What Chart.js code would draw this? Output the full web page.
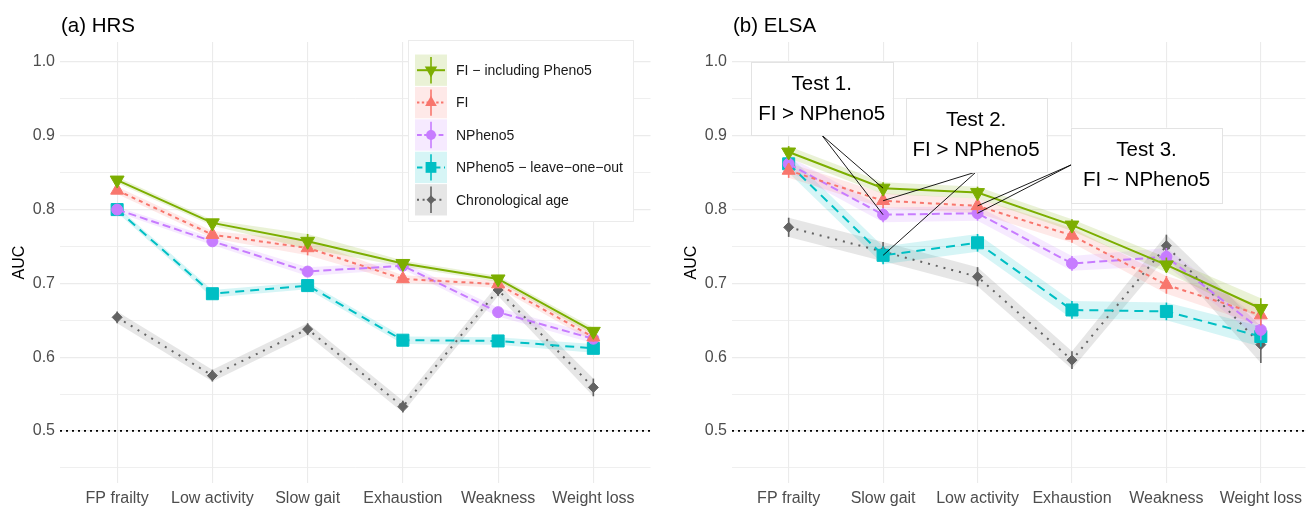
<!DOCTYPE html>
<html>
<head>
<meta charset="utf-8">
<script src="https://cdn.jsdelivr.net/npm/chart.js@4.4.1/dist/chart.umd.min.js"></script>
<style>
  html, body { margin: 0; padding: 0; background: #fff; overflow: hidden; }
  #wrap { position: relative; width: 1315px; height: 506px; }
  canvas { position: absolute; top: 0; }
  #hrs { left: 0; }
  #elsa { left: 660px; }
</style>
</head>
<body>
<div id="wrap">
  <canvas id="hrs" width="660" height="506"></canvas>
  <canvas id="elsa" width="655" height="506"></canvas>
</div>
<script>
const FONT = '"Liberation Sans", Arial, Helvetica, sans-serif';

const hrsCategories = ['FP frailty', 'Low activity', 'Slow gait', 'Exhaustion', 'Weakness', 'Weight loss'];
const elsaCategories = ['FP frailty', 'Slow gait', 'Low activity', 'Exhaustion', 'Weakness', 'Weight loss'];
const seriesNames = ['FI \u2212 including Pheno5', 'FI', 'NPheno5', 'NPheno5 \u2212 leave\u2212one\u2212out', 'Chronological age'];

// (a) HRS - AUC
const hrsFiPheno = [0.840, 0.782, 0.757, 0.727, 0.706, 0.635];
const hrsFi      = [0.826, 0.766, 0.748, 0.706, 0.699, 0.627];
const hrsNPheno  = [0.800, 0.757, 0.716, 0.724, 0.661, 0.625];
const hrsLoo     = [0.800, 0.686, 0.697, 0.623, 0.622, 0.612];
const hrsAge     = [0.654, 0.575, 0.638, 0.533, 0.691, 0.559];
// (a) HRS - half width of CI
const hrsFiPhenoCi = [0.004, 0.004, 0.010, 0.004, 0.004, 0.005];
const hrsFiCi      = [0.005, 0.005, 0.010, 0.005, 0.005, 0.006];
const hrsNPhenoCi  = [0.004, 0.005, 0.006, 0.005, 0.006, 0.006];
const hrsLooCi     = [0.004, 0.005, 0.005, 0.005, 0.005, 0.006];
const hrsAgeCi     = [0.008, 0.008, 0.008, 0.008, 0.008, 0.012];

// (b) ELSA - AUC
const elsaFiPheno = [0.878, 0.829, 0.823, 0.779, 0.725, 0.666];
const elsaFi      = [0.853, 0.812, 0.805, 0.765, 0.698, 0.657];
const elsaNPheno  = [0.862, 0.793, 0.795, 0.727, 0.736, 0.637];
const elsaLoo     = [0.862, 0.738, 0.755, 0.664, 0.662, 0.628];
const elsaAge     = [0.776, 0.743, 0.709, 0.596, 0.751, 0.617];
// (b) ELSA - half width of CI
const elsaFiPhenoCi = [0.008, 0.008, 0.008, 0.008, 0.010, 0.014];
const elsaFiCi      = [0.010, 0.010, 0.010, 0.010, 0.012, 0.014];
const elsaNPhenoCi  = [0.010, 0.010, 0.010, 0.010, 0.012, 0.014];
const elsaLooCi     = [0.012, 0.012, 0.012, 0.012, 0.012, 0.014];
const elsaAgeCi     = [0.013, 0.013, 0.013, 0.012, 0.015, 0.025];

const yTicks = [0.45, 0.5, 0.55, 0.6, 0.65, 0.7, 0.75, 0.8, 0.85, 0.9, 0.95, 1.0];
const refLine = 0.5;

const testLabels = [['Test 1.', 'FI > NPheno5'], ['Test 2.', 'FI > NPheno5'], ['Test 3.', 'FI ~ NPheno5']];

// label boxes in data units, links = [series, category]
const testBoxes = [
  { x0: -0.40, x1: 1.10, y0: 1.000, y1: 0.901, anchor: 'bottom', links: [[0, 1], [2, 1]] },
  { x0: 1.24, x1: 2.73, y0: 0.951, y1: 0.851, anchor: 'bottom', links: [[1, 1], [3, 1]] },
  { x0: 2.99, x1: 4.59, y0: 0.911, y1: 0.810, anchor: 'left', links: [[1, 2], [2, 2]] }
];

const seriesStyle = [
  { color: '#7CAE00', rgb: '124,174,0', dash: [], point: 'triangle', rot: 180, r: 8 },
  { color: '#F8766D', rgb: '248,118,109', dash: [4, 4], point: 'triangle', rot: 0, r: 7.5 },
  { color: '#C77CFF', rgb: '199,124,255', dash: [8, 4], point: 'circle', rot: 0, r: 5.5 },
  { color: '#00BFC4', rgb: '0,191,196', dash: [9, 6], point: 'rect', rot: 0, r: 8.5 },
  { color: '#636363', rgb: '100,100,100', dash: [2, 6], point: 'rectRot', rot: 0, r: 5 }
];
const RIBBON_ALPHA = 0.16;

function drawMarker(ctx, st, x, y, r) {
  ctx.save();
  ctx.fillStyle = st.color;
  ctx.beginPath();
  if (st.point === 'circle') {
    ctx.arc(x, y, r, 0, Math.PI * 2);
  } else if (st.point === 'rect') {
    const h = r * Math.SQRT1_2;
    ctx.rect(x - h, y - h, 2 * h, 2 * h);
  } else if (st.point === 'rectRot') {
    ctx.moveTo(x, y - r); ctx.lineTo(x + r, y); ctx.lineTo(x, y + r); ctx.lineTo(x - r, y);
    ctx.closePath();
  } else {
    for (let k = 0; k < 3; k++) {
      const a = st.rot * Math.PI / 180 + k * 2 * Math.PI / 3;
      const px = x + Math.sin(a) * r, py = y - Math.cos(a) * r;
      if (k === 0) ctx.moveTo(px, py); else ctx.lineTo(px, py);
    }
    ctx.closePath();
  }
  ctx.fill();
  ctx.restore();
}

function buildDatasets(values, cis) {
  const ds = [];
  values.forEach((vals, s) => {
    const st = seriesStyle[s];
    ds.push({
      data: vals.map((v, i) => ({ x: i, y: v })),
      ci: cis[s],
      series: s,
      borderColor: st.color,
      borderWidth: 2,
      borderDash: st.dash,
      pointStyle: st.point,
      rotation: st.rot,
      pointRadius: st.r,
      pointBackgroundColor: st.color,
      pointBorderColor: st.color,
      pointBorderWidth: 1,
      fill: false,
      tension: 0,
      order: 0
    });
  });
  values.forEach((vals, s) => {
    const st = seriesStyle[s];
    ds.push({
      data: vals.map((v, i) => ({ x: i, y: v - cis[s][i] })),
      borderWidth: 0, pointRadius: 0, fill: false, order: 10
    });
    ds.push({
      data: vals.map((v, i) => ({ x: i, y: v + cis[s][i] })),
      borderWidth: 0, pointRadius: 0, order: 10,
      fill: '-1',
      backgroundColor: 'rgba(' + st.rgb + ',' + RIBBON_ALPHA + ')'
    });
  });
  return ds;
}

function panelPlugin(cfg) {
  return {
    id: 'panel_' + cfg.id,
    beforeDatasetsDraw(chart) {
      const { ctx, chartArea: a, scales } = chart;
      const y = scales.y.getPixelForValue(refLine);
      ctx.save();
      ctx.strokeStyle = '#000';
      ctx.lineWidth = 1.8;
      ctx.setLineDash([2, 4]);
      ctx.beginPath();
      ctx.moveTo(a.left, y);
      ctx.lineTo(a.right, y);
      ctx.stroke();
      ctx.restore();
    },
    beforeDatasetDraw(chart, args) {
      const d = chart.data.datasets[args.index];
      if (d.series === undefined) return;
      const { ctx, scales } = chart;
      const st = seriesStyle[d.series];
      ctx.save();
      ctx.strokeStyle = st.color;
      ctx.lineWidth = 1.6;
      d.data.forEach((p, i) => {
        const x = scales.x.getPixelForValue(p.x);
        ctx.beginPath();
        ctx.moveTo(x, scales.y.getPixelForValue(p.y - d.ci[i]));
        ctx.lineTo(x, scales.y.getPixelForValue(p.y + d.ci[i]));
        ctx.stroke();
      });
      ctx.restore();
    },
    afterDraw(chart) {
      const { ctx, chartArea: a } = chart;
      ctx.save();
      ctx.fillStyle = '#000';
      ctx.font = '20.5px ' + FONT;
      ctx.textBaseline = 'alphabetic';
      ctx.textAlign = 'left';
      ctx.fillText(cfg.title, a.left + 1, 32);
      ctx.restore();
      if (cfg.legend) drawLegend(ctx);
      if (cfg.tests) drawTests(chart);
    }
  };
}

function drawLegend(ctx) {
  const bx = 408, by = 40, bw = 225, bh = 181;
  ctx.save();
  ctx.fillStyle = '#fff';
  ctx.fillRect(bx, by, bw, bh);
  ctx.strokeStyle = '#ebebeb';
  ctx.lineWidth = 1;
  ctx.strokeRect(bx + 0.5, by + 0.5, bw, bh);
  const kx = 415, kw = 32, top = 54, rh = 32.4;
  seriesNames.forEach((name, s) => {
    const st = seriesStyle[s];
    const ry = top + s * rh;
    const cx = kx + kw / 2, cy = ry + rh / 2;
    ctx.fillStyle = 'rgba(' + st.rgb + ',' + RIBBON_ALPHA + ')';
    ctx.fillRect(kx, ry + 0.5, kw, rh - 1);
    ctx.strokeStyle = st.color;
    ctx.lineWidth = 2;
    ctx.setLineDash(st.dash.length ? st.dash.map(v => Math.max(2, v * 0.6)) : []);
    ctx.beginPath();
    ctx.moveTo(kx + 2, cy); ctx.lineTo(kx + kw - 2, cy);
    ctx.stroke();
    ctx.setLineDash([]);
    ctx.lineWidth = 1.6;
    ctx.beginPath();
    ctx.moveTo(cx, ry + 3); ctx.lineTo(cx, ry + rh - 3);
    ctx.stroke();
    drawMarker(ctx, st, cx, cy, st.r * 0.9);
    ctx.fillStyle = '#1a1a1a';
    ctx.font = '14px ' + FONT;
    ctx.textBaseline = 'middle';
    ctx.textAlign = 'left';
    ctx.fillText(name, 456, cy + 1);
  });
  ctx.restore();
}

function drawTests(chart) {
  const { ctx, scales } = chart;
  const values = [elsaFiPheno, elsaFi, elsaNPheno, elsaLoo, elsaAge];
  ctx.save();
  testBoxes.forEach((b, k) => {
    const l = scales.x.getPixelForValue(b.x0), r = scales.x.getPixelForValue(b.x1);
    const t = scales.y.getPixelForValue(b.y0), btm = scales.y.getPixelForValue(b.y1);
    const ax = b.anchor === 'left' ? l : (l + r) / 2;
    const ay = b.anchor === 'left' ? (t + btm) / 2 : btm;
    ctx.strokeStyle = '#000';
    ctx.lineWidth = 0.9;
    b.links.forEach(([s, i]) => {
      ctx.beginPath();
      ctx.moveTo(ax, ay);
      ctx.lineTo(scales.x.getPixelForValue(i), scales.y.getPixelForValue(values[s][i]));
      ctx.stroke();
    });
    ctx.fillStyle = '#fff';
    ctx.fillRect(l, t, r - l, btm - t);
    ctx.strokeStyle = '#e3e3e3';
    ctx.lineWidth = 1;
    ctx.strokeRect(Math.round(l) + 0.5, Math.round(t) + 0.5, Math.round(r - l), Math.round(btm - t));
    ctx.fillStyle = '#000';
    ctx.font = '20.5px ' + FONT;
    ctx.textAlign = 'center';
    ctx.textBaseline = 'middle';
    const cy = (t + btm) / 2;
    ctx.fillText(testLabels[k][0], (l + r) / 2, cy - 14.5);
    ctx.fillText(testLabels[k][1], (l + r) / 2, cy + 15.5);
  });
  ctx.restore();
}

function makeChart(cfg) {
  const cats = cfg.categories;
  return new Chart(document.getElementById(cfg.id), {
    type: 'line',
    data: { datasets: buildDatasets(cfg.values, cfg.cis) },
    options: {
      responsive: false,
      animation: false,
      layout: { padding: { top: 42, left: 0, right: cfg.padRight, bottom: 0 } },
      plugins: { legend: { display: false }, tooltip: { enabled: false }, title: { display: false } },
      scales: {
        x: {
          type: 'linear',
          min: -0.6,
          max: cfg.xMax,
          afterBuildTicks: s => { s.ticks = cats.map((c, i) => ({ value: i })); },
          afterFit: s => { s.height = 23; },
          ticks: {
            callback: v => cats[v],
            color: '#4d4d4d',
            font: { family: FONT, size: 16 },
            padding: 6,
            maxRotation: 0,
            autoSkip: false
          },
          grid: { color: '#ebebeb', lineWidth: 1.1, drawTicks: false },
          border: { display: false }
        },
        y: {
          type: 'linear',
          min: 0.4295,
          max: 1.0271,
          afterBuildTicks: s => { s.ticks = yTicks.map(v => ({ value: v })); },
          afterFit: s => { s.width = cfg.yWidth; },
          ticks: {
            callback: v => (Math.round(v * 100) % 10 === 0 ? v.toFixed(1) : ''),
            color: '#4d4d4d',
            font: { family: FONT, size: 16 },
            padding: 5
          },
          grid: {
            color: '#ebebeb',
            lineWidth: c => (c.tick && Math.round(c.tick.value * 100) % 10 === 0 ? 1.2 : 0.8),
            drawTicks: false
          },
          border: { display: false },
          title: {
            display: true,
            text: 'AUC',
            color: '#000',
            font: { family: FONT, size: 16 },
            padding: cfg.titlePad
          }
        }
      }
    },
    plugins: [panelPlugin(cfg)]
  });
}

makeChart({
  id: 'hrs', title: '(a) HRS', categories: hrsCategories,
  values: [hrsFiPheno, hrsFi, hrsNPheno, hrsLoo, hrsAge],
  cis: [hrsFiPhenoCi, hrsFiCi, hrsNPhenoCi, hrsLooCi, hrsAgeCi],
  xMax: 5.6, padRight: 4, yWidth: 60, titlePad: 10, legend: true
});

makeChart({
  id: 'elsa', title: '(b) ELSA', categories: elsaCategories,
  values: [elsaFiPheno, elsaFi, elsaNPheno, elsaLoo, elsaAge],
  cis: [elsaFiPhenoCi, elsaFiCi, elsaNPhenoCi, elsaLooCi, elsaAgeCi],
  xMax: 5.473, padRight: 0, yWidth: 72, titlePad: 22, tests: true
});
</script>
</body>
</html>
